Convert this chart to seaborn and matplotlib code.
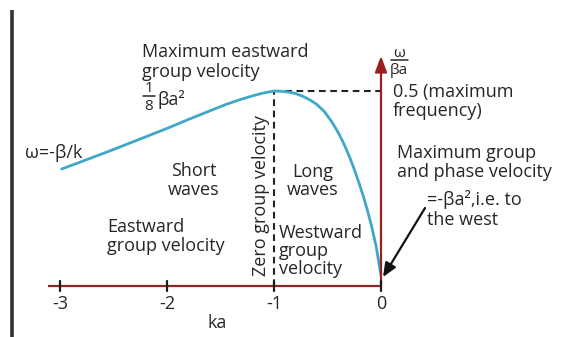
import numpy as np
import matplotlib
matplotlib.use("Agg")
import matplotlib.pyplot as plt
import seaborn as sns

# Rossby-wave dispersion curve, frequency omega/(beta a) against ka
ka = [-2.984, -2.75, -2.5, -2.25, -2.0, -1.8, -1.6, -1.45, -1.3, -1.2, -1.12,
      -1.06, -1.0, -0.94, -0.87, -0.80, -0.73, -0.66, -0.60, -0.53, -0.461,
      -0.40, -0.352, -0.30, -0.259, -0.21, -0.165, -0.125, -0.087, -0.045, -0.002]
omega = [0.300, 0.324, 0.350, 0.377, 0.404, 0.427, 0.449, 0.4655, 0.4795, 0.4875,
         0.4935, 0.4968, 0.500, 0.4995, 0.4975, 0.4935, 0.4865, 0.4765, 0.4655,
         0.4475, 0.4215, 0.3935, 0.3675, 0.335, 0.306, 0.268, 0.230, 0.192, 0.152,
         0.101, 0.030]
tick_values = [-3, -2, -1, 0]
tick_labels = ["-3", "-2", "-1", "0"]

sns.set_theme(style="white")
plt.rcParams["font.family"] = ["Open Sans", "DejaVu Sans"]

W, H = 572, 337
fig = plt.figure(figsize=(W / 100, H / 100), dpi=100)
ax = fig.add_axes([0, 0, 1, 1])

# pixel <-> data mapping used for label placement
X0, XS = 381.0, 107.0
Y0, YS = 286.0, 390.0
def px(x):
    return (x - X0) / XS
def py(y):
    return (Y0 - y) / YS

CURVE = "#3fa8c8"
AXIS = "#8e2626"
TXT = "#262626"
FS = 13

sns.lineplot(x=ka, y=omega, ax=ax, color=CURVE, lw=2.0, zorder=4)

# dashed guides through the maximum frequency
i_max = int(np.argmax(omega))
k_peak, w_peak = ka[i_max], omega[i_max]
ax.plot([k_peak, 0], [w_peak, w_peak], ls=(0, (3.2, 2.2)), color="#222222", lw=1.5, zorder=3)
ax.plot([k_peak, k_peak], [0, w_peak], ls=(0, (3.2, 2.2)), color="#222222", lw=1.5, zorder=3)

# horizontal ka axis
ax.plot([px(48), 0], [0, 0], color=AXIS, lw=1.6, zorder=5, solid_capstyle="butt")
for t in tick_values:
    ax.plot([t, t], [py(281), py(291)], color="#1a1a1a", lw=1.6, zorder=6)
for t, lab in zip(tick_values, tick_labels):
    ax.text(t, py(309), lab, ha="center", va="baseline", fontsize=FS, color=TXT)
ax.text(px(217), py(328), "ka", ha="center", va="baseline", fontsize=FS, color=TXT)

# vertical omega axis with arrow head
ax.annotate("", xy=(0, py(56)), xytext=(0, 0),
            arrowprops=dict(arrowstyle="-|>,head_length=0.8,head_width=0.3",
                            color="#9a1f1f", lw=1.6, shrinkA=0, shrinkB=0), zorder=5)

# left frame line
ax.plot([px(12), px(12)], [py(10), py(337)], color="#333333", lw=2.6, solid_capstyle="butt")

def label(x, y, s, **kw):
    opts = dict(ha="left", va="baseline", fontsize=FS, color=TXT)
    opts.update(kw)
    ax.text(px(x), py(y), s, **opts)

label(142, 57, "Maximum eastward")
label(142, 77, "group velocity")
# 1/8 beta a^2
label(149, 92, "1", ha="center", fontsize=11)
ax.plot([px(143), px(155)], [py(95.5), py(95.5)], color=TXT, lw=1.1)
label(149, 110, "8", ha="center", fontsize=11)
label(157, 105, "βa²")

label(25, 158, "ω=-β/k")
label(194, 176, "Short", ha="center")
label(194, 195, "waves", ha="center")
label(107, 232, "Eastward")
label(107, 251, "group velocity")
label(313, 177, "Long", ha="center")
label(313, 195, "waves", ha="center")
label(279, 238, "Westward")
label(279, 256, "group")
label(279, 274, "velocity")
ax.text(px(266), py(196), "Zero group velocity", rotation=90, rotation_mode="anchor",
        ha="center", va="baseline", fontsize=FS, color=TXT)

# omega / (beta a) axis title
label(399, 57, "ω", ha="center", fontsize=11)
ax.plot([px(391), px(408)], [py(60.5), py(60.5)], color=TXT, lw=1.1)
label(399, 74, "βa", ha="center", fontsize=11)

label(393, 97, "0.5 (maximum")
label(393, 116, "frequency)")
label(397, 158, "Maximum group")
label(397, 177, "and phase velocity")
label(427, 205, "=-βa²,i.e. to")
label(427, 225, "the west")

ax.annotate("", xy=(px(383), py(277)), xytext=(px(425), py(208)),
            arrowprops=dict(arrowstyle="-|>,head_length=0.7,head_width=0.3",
                            color="#111111", lw=1.6, shrinkA=0, shrinkB=0), zorder=7)

ax.set_xlim(px(0), px(W))
ax.set_ylim(py(H), py(0))
ax.axis("off")

fig.savefig("out.png", dpi=100)
